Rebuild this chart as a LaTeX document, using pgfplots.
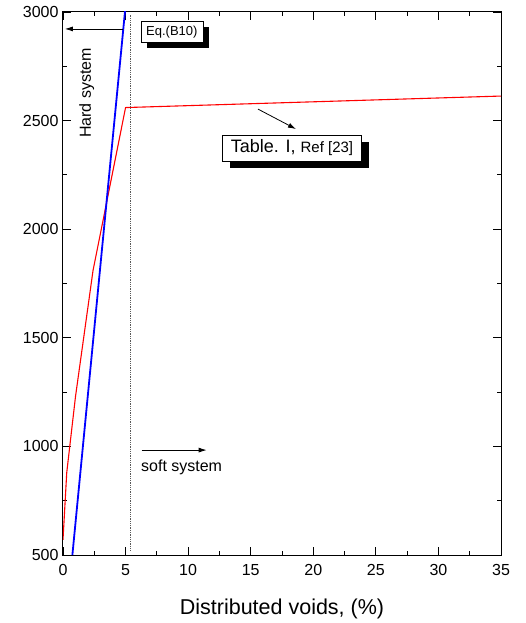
\documentclass[border=0pt]{standalone}
\usepackage{pgfplots}
\pgfplotsset{compat=1.18}
\usepackage{fontspec}
\setmainfont{Liberation Sans}
\usetikzlibrary{shadows,arrows.meta}
\begin{document}
\begin{tikzpicture}
\path[use as bounding box] (-63bp,-68bp) rectangle (463bp,555bp);
\begin{axis}[
  at={(0,0)}, anchor=south west,
  scale only axis, width=438bp, height=543bp,
  xmin=0, xmax=35, ymin=500, ymax=3000,
  xtick={0,5,...,35}, ytick={500,1000,...,3000},
  minor tick num=1,
  tick align=inside,
  major tick length=8bp, minor tick length=4bp,
  tick style={black, line width=0.8bp},
  axis line style={line width=1bp},
  scaled ticks=false,
  /pgf/number format/.cd, set thousands separator={}, assume math mode=true,
  /pgfplots/.cd,
  ticklabel style={font=\fontsize{16bp}{18bp}\selectfont},
  xticklabel style={yshift=-6bp},
  yticklabel style={xshift=-1bp},
  xlabel={Distributed voids, (\%)},
  xlabel style={font=\fontsize{21.5bp}{24bp}\selectfont, yshift=-16bp},
  clip=true,
]
\addplot[red, line width=1.1bp] coordinates {(0,570) (0.3,880) (1,1230) (2.4,1810) (5.0,2560) (35,2613)};
\addplot[blue, line width=1.8bp] coordinates {(0.75,500) (4.95,3000) (5.0,3030)};
\addplot[gray!70!black, densely dotted, line width=0.8bp] coordinates {(5.35,520) (5.35,2985)};

\draw[-{Latex[length=8bp,width=5bp]}, line width=0.8bp] (axis cs:4.77,2922) -- (axis cs:0.15,2922);
\node[rotate=90, font=\fontsize{16bp}{18bp}\selectfont] at (axis cs:1.9,2627) {Hard system};
\node[draw=black, fill=white, inner sep=3bp, minimum width=62bp, minimum height=21bp,
  drop shadow={shadow xshift=6bp, shadow yshift=-6bp, fill=black, opacity=1},
  font=\fontsize{13bp}{15bp}\selectfont] at (axis cs:8.7,2908) {Eq.(B10)};
\draw[-{Latex[length=8bp,width=5bp]}, line width=0.8bp] (axis cs:15.58,2553) -- (axis cs:18.62,2461);
\node[draw=black, fill=white, inner sep=3bp, minimum width=139bp, minimum height=26bp,
  drop shadow={shadow xshift=7bp, shadow yshift=-7bp, fill=black, opacity=1}] at (axis cs:18.3,2374)
  {\fontsize{18bp}{20bp}\selectfont Table. I, \fontsize{15bp}{17bp}\selectfont Ref [23]};
\draw[-{Latex[length=8bp,width=5bp]}, line width=0.8bp] (axis cs:6.29,983) -- (axis cs:11.48,983);
\node[anchor=west, inner sep=0pt, font=\fontsize{16bp}{18bp}\selectfont] at (axis cs:6.23,905) {soft system};
\end{axis}
\end{tikzpicture}
\end{document}
